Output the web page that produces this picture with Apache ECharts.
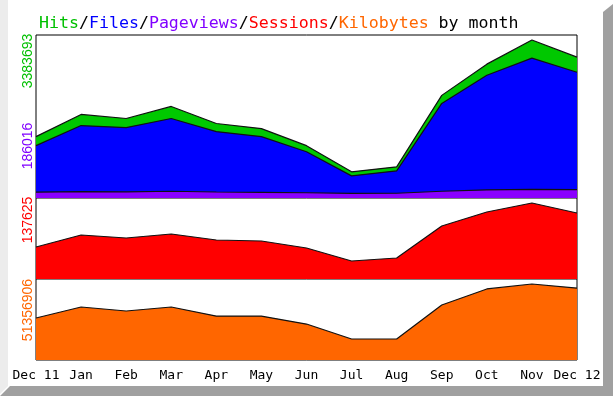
<!DOCTYPE html>
<html>
<head>
<meta charset="utf-8">
<script src="https://cdn.jsdelivr.net/npm/echarts@6/dist/echarts.min.js"></script>
<style>html,body{margin:0;padding:0;background:#fff}#c{width:613px;height:396px}</style>
</head>
<body>
<div id="c"></div>
<script>
const months = ['Dec 11','Jan','Feb','Mar','Apr','May','Jun','Jul','Aug','Sep','Oct','Nov','Dec 12'];
const hits      = [1315000,1789000,1703000,1961000,1595000,1487000,1121000,560000,668000,2198000,2867000,3383693,3017000];
const files     = [1121000,1552000,1509000,1703000,1422000,1315000,991000,474000,582000,2026000,2629000,2996000,2694000];
const pageviews = [125000,135000,132000,145000,128000,122000,112000,98000,102000,145000,172000,186016,180000];
const sessions  = [58000,79700,74300,81500,70600,68800,56100,32600,38000,96000,121300,137625,119500];
const kbytes    = [28400000,35800000,33100000,35800000,29700000,29700000,24300000,14200000,14200000,37200000,48000000,51356906,48600000];
const sideLabels = ['3383693','186016','137625','51356906'];

const mono = 'DejaVu Sans Mono';
const chart = echarts.init(document.getElementById('c'), null, {renderer:'canvas'});

function xAx(i, show){
  return {type:'category', gridIndex:i, data:months, boundaryGap:false,
    axisLine:{show:false}, axisTick:{show:false}, splitLine:{show:false},
    axisLabel:{show:show, interval:0, color:'#000', fontFamily:mono, fontSize:13, margin:9}};
}
function yAx(i, max){
  return {type:'value', gridIndex:i, min:0, max:max, axisLine:{show:false}, axisTick:{show:false},
    axisLabel:{show:false}, splitLine:{show:false}};
}
function area(name, data, color, xi){
  return {name:name, type:'line', xAxisIndex:xi, yAxisIndex:xi, data:data, symbol:'none', silent:true,
    lineStyle:{color:'#111', width:1.2}, areaStyle:{color:color, opacity:1}, animation:false};
}

chart.setOption({
  animation:false,
  backgroundColor:'#fff',
  title:{
    left:34, top:10,
    text:'{h|Hits}/{f|Files}/{p|Pageviews}/{s|Sessions}/{k|Kilobytes} by month',
    textStyle:{fontFamily:mono, fontSize:16.6, fontWeight:'normal', color:'#000',
      rich:{
        h:{color:'#00c000', fontFamily:mono, fontSize:16.6},
        f:{color:'#0000ff', fontFamily:mono, fontSize:16.6},
        p:{color:'#8000ff', fontFamily:mono, fontSize:16.6},
        s:{color:'#ff0000', fontFamily:mono, fontSize:16.6},
        k:{color:'#ff6600', fontFamily:mono, fontSize:16.6}
      }}
  },
  grid:[
    {left:36, top:35, width:541, height:163, show:true, borderColor:'#000', borderWidth:1, backgroundColor:'#fff'},
    {left:36, top:198, width:541, height:81, show:true, borderColor:'#000', borderWidth:1, backgroundColor:'#fff'},
    {left:36, top:279, width:541, height:81, show:true, borderColor:'#000', borderWidth:1, backgroundColor:'#fff'}
  ],
  xAxis:[xAx(0,false), xAx(1,false), xAx(2,true)],
  yAxis:[yAx(0,3491000), yAx(1,146700), yAx(2,54730000)],
  series:[
    area('Hits', hits, '#00c800', 0),
    area('Files', files, '#0000ff', 0),
    area('Pageviews', pageviews, '#8a00ff', 0),
    area('Sessions', sessions, '#ff0000', 1),
    area('Kilobytes', kbytes, '#ff6600', 2)
  ],
  graphic:[
    {type:'polygon', silent:true, z:-10, shape:{points:[[0,0],[8,0],[8,386],[0,394]]}, style:{fill:'#ececec'}},
    {type:'polygon', silent:true, z:-10, shape:{points:[[603,12],[613,4],[613,396],[0,396],[10,386],[603,386]]}, style:{fill:'#a0a0a0'}},
    {type:'text', x:28, y:61, rotation:Math.PI/2, style:{text:sideLabels[0], fill:'#00c000', font:'14px "Liberation Sans"', textAlign:'center', textVerticalAlign:'middle'}},
    {type:'text', x:28, y:146, rotation:Math.PI/2, style:{text:sideLabels[1], fill:'#8000ff', font:'14px "Liberation Sans"', textAlign:'center', textVerticalAlign:'middle'}},
    {type:'text', x:28, y:220, rotation:Math.PI/2, style:{text:sideLabels[2], fill:'#ff0000', font:'14px "Liberation Sans"', textAlign:'center', textVerticalAlign:'middle'}},
    {type:'text', x:28, y:310, rotation:Math.PI/2, style:{text:sideLabels[3], fill:'#ff6600', font:'14px "Liberation Sans"', textAlign:'center', textVerticalAlign:'middle'}}
  ]
});
</script>
</body>
</html>
